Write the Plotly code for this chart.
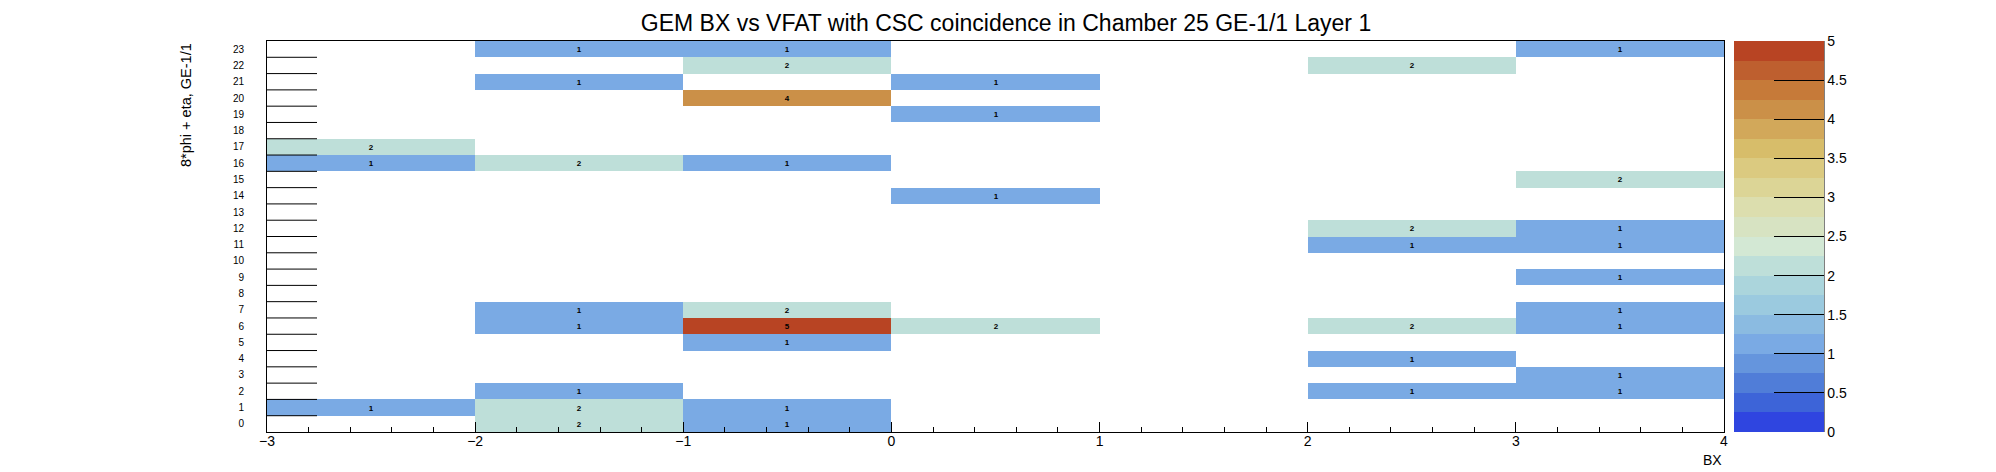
import plotly.graph_objects as go

TITLE = "GEM BX vs VFAT with CSC coincidence in Chamber 25 GE-1/1 Layer 1"
X_TITLE = "BX"
Y_TITLE = "8*phi + eta, GE-1/1"

# BX bins are 1 wide, from -3 to 4
bx_centers = [-2.5, -1.5, -0.5, 0.5, 1.5, 2.5, 3.5]
vfat_rows = list(range(24))
row_labels = [str(r) for r in vfat_rows]

# filled bins only: BX bin centre, row (8*phi + eta), entries
hit_bx = [
    -2.5, -2.5, -2.5,
    -1.5, -1.5, -1.5, -1.5, -1.5, -1.5, -1.5, -1.5,
    -0.5, -0.5, -0.5, -0.5, -0.5, -0.5, -0.5, -0.5, -0.5,
    0.5, 0.5, 0.5, 0.5,
    2.5, 2.5, 2.5, 2.5, 2.5, 2.5,
    3.5, 3.5, 3.5, 3.5, 3.5, 3.5, 3.5, 3.5, 3.5,
]
hit_row = [
    17, 16, 1,
    23, 21, 16, 7, 6, 2, 1, 0,
    23, 22, 20, 16, 7, 6, 5, 1, 0,
    21, 19, 14, 6,
    22, 12, 11, 6, 4, 2,
    23, 15, 12, 11, 9, 7, 6, 3, 2,
]
hit_count = [
    2, 1, 1,
    1, 1, 2, 1, 1, 1, 2, 2,
    1, 2, 4, 1, 2, 5, 1, 1, 1,
    1, 1, 1, 2,
    2, 2, 1, 2, 1, 1,
    1, 2, 1, 1, 1, 1, 1, 1, 1,
]

z_min, z_max = 0, 5
cbar_ticks = [0, 0.5, 1, 1.5, 2, 2.5, 3, 3.5, 4, 4.5, 5]

# ROOT-like palette, 20 flat bands between 0 and 5
band_colors = [
    "#2f45e0", "#3d64d8", "#507dd8", "#6595dd", "#7aaae4",
    "#8bbbe1", "#9bcadf", "#abd5dc", "#bedfd9", "#d3e8d4",
    "#d7e3c2", "#dcdeae", "#dcd596", "#dbca80", "#d7bd6a",
    "#d2a85a", "#cb9048", "#c67a39", "#be5f2f", "#b84423",
]
colorscale = []
n_band = len(band_colors)
for i, c in enumerate(band_colors):
    colorscale.append([i / n_band, c])
    colorscale.append([(i + 1) / n_band, c])

# build the 2D grid for the heatmap
z = [[None] * len(bx_centers) for _ in vfat_rows]
txt = [[""] * len(bx_centers) for _ in vfat_rows]
for b, r, n in zip(hit_bx, hit_row, hit_count):
    j = bx_centers.index(b)
    z[r][j] = n
    txt[r][j] = f"<b>{n}</b>"

FONT = "Liberation Sans, Arial, Helvetica, sans-serif"

# pixel geometry of the pad
W, H = 1996, 472
L, R, T, B = 259, 280, 33, 48
plot_w = W - L - R
plot_h = H - T - B

fig = go.Figure()
fig.add_trace(
    go.Heatmap(
        x=bx_centers,
        y=vfat_rows,
        z=z,
        text=txt,
        texttemplate="%{text}",
        textfont=dict(family=FONT, size=8, color="black"),
        colorscale=colorscale,
        zmin=z_min,
        zmax=z_max,
        xgap=0,
        ygap=0,
        hoverongaps=False,
        colorbar=dict(
            x=(1726 - L) / plot_w,
            xanchor="left",
            xpad=0,
            ypad=0,
            y=0.5,
            yanchor="middle",
            len=1,
            lenmode="fraction",
            thickness=90,
            thicknessmode="pixels",
            outlinewidth=0,
            ticks="inside",
            ticklen=50,
            tickwidth=1,
            tickcolor="black",
            tickvals=cbar_ticks,
            ticktext=[f"{v:g}" for v in cbar_ticks],
            tickfont=dict(family=FONT, size=14, color="black"),
        ),
    )
)

fig.update_layout(
    width=W,
    height=H,
    margin=dict(l=L, r=R, t=T, b=B, pad=0),
    paper_bgcolor="white",
    plot_bgcolor="white",
    font=dict(family=FONT, color="black"),
    showlegend=False,
    title=dict(
        text=TITLE,
        x=0.5,
        xanchor="center",
        y=1 - 15 / H,
        yanchor="middle",
        font=dict(family=FONT, size=23, color="black"),
    ),
    xaxis=dict(
        range=[-3, 4],
        tickmode="linear",
        tick0=-3,
        dtick=1,
        ticks="inside",
        ticklen=10,
        tickwidth=1,
        tickcolor="black",
        minor=dict(dtick=0.2, tick0=-3, ticks="inside", ticklen=5, tickcolor="black"),
        ticklabelstandoff=-4,
        showgrid=False,
        zeroline=False,
        showline=True,
        linecolor="black",
        linewidth=1,
        mirror=True,
        tickfont=dict(family=FONT, size=14, color="black"),
    ),
    yaxis=dict(
        range=[-0.5, 23.5],
        tickmode="array",
        tickvals=vfat_rows,
        ticktext=row_labels,
        ticks="",
        ticklabelstandoff=20,
        showgrid=False,
        zeroline=False,
        showline=True,
        linecolor="black",
        linewidth=1,
        mirror=True,
        tickfont=dict(family=FONT, size=10, color="black"),
    ),
)

# long tick marks on the bin edges of the y axis (drawn over the cells)
for r in vfat_rows[:-1]:
    fig.add_shape(
        type="line", xref="paper", yref="y",
        x0=0, x1=50 / plot_w, y0=r + 0.5, y1=r + 0.5,
        line=dict(color="black", width=1), layer="above",
    )

# right edge of the palette box
cb_right = (1816 - L) / plot_w
fig.add_shape(
    type="line", xref="paper", yref="paper",
    x0=cb_right, x1=cb_right, y0=0, y1=1,
    line=dict(color="black", width=1),
)

fig.add_annotation(
    text=X_TITLE, xref="paper", yref="paper",
    x=1, xanchor="right", y=-(452 - (H - B)) / plot_h, yanchor="middle",
    showarrow=False, font=dict(family=FONT, size=14, color="black"),
)
fig.add_annotation(
    text=Y_TITLE, xref="paper", yref="paper", textangle=-90,
    x=(178 - L) / plot_w, xanchor="center", y=1, yanchor="top",
    showarrow=False, font=dict(family=FONT, size=14.5, color="black"),
)

fig.write_html("out.html")
